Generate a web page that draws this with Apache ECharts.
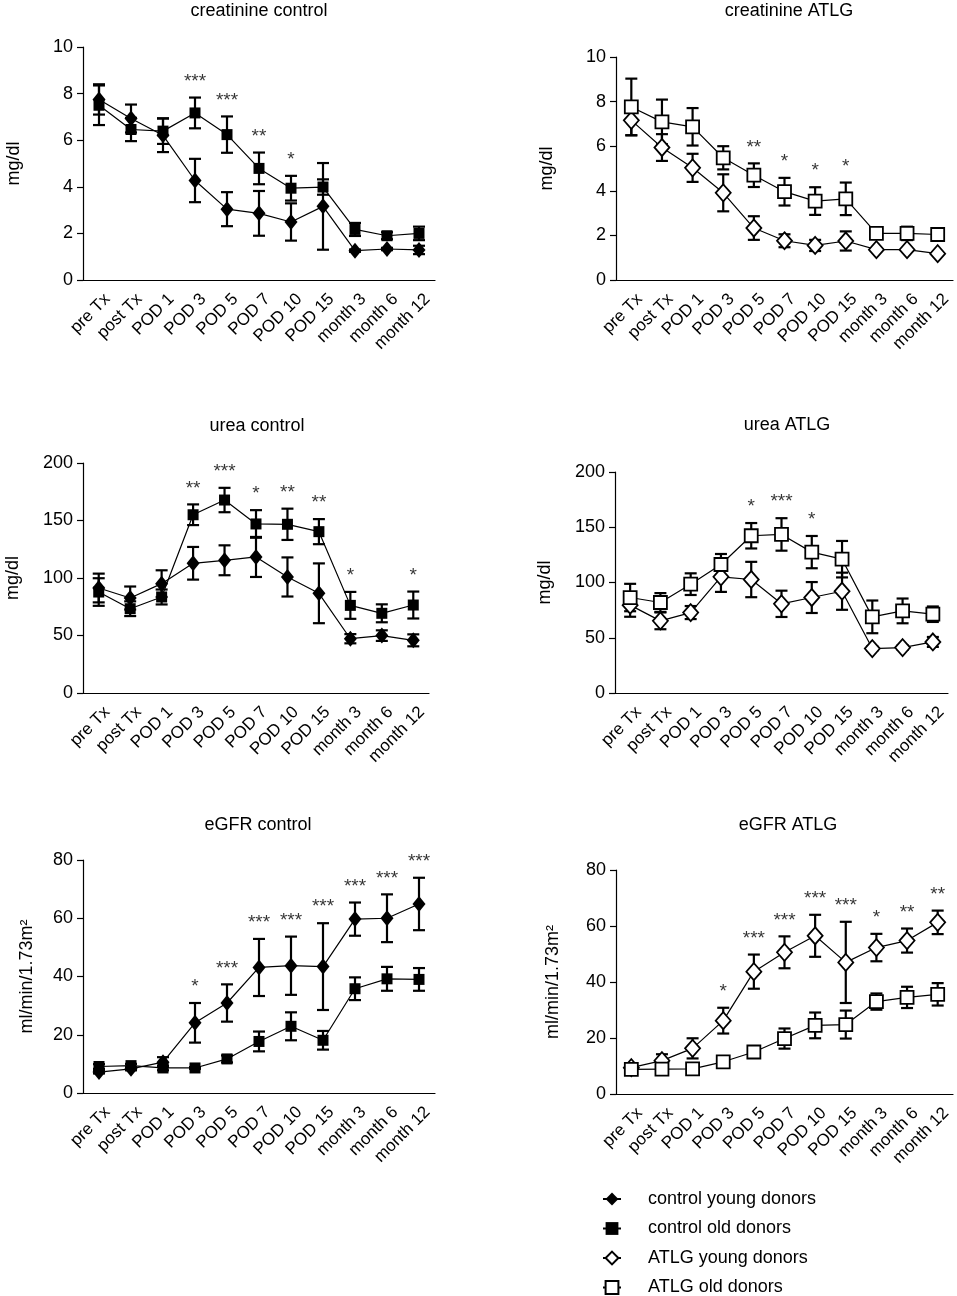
<!DOCTYPE html>
<html>
<head>
<meta charset="utf-8">
<title>creatinine, urea and eGFR</title>
<script src="https://cdn.jsdelivr.net/npm/echarts@6/dist/echarts.min.js"></script>
<style>
html,body{margin:0;padding:0;background:#fff;}
#chart{width:957px;height:1296px;}
</style>
</head>
<body>
<div id="chart"></div>
<script>
const FONT = '"Liberation Sans", Arial, Helvetica, sans-serif'

const categories = ['pre Tx', 'post Tx', 'POD 1', 'POD 3', 'POD 5', 'POD 7', 'POD 10', 'POD 15', 'month 3', 'month 6', 'month 12']

// creatinine control (mg/dl), mean and error
const creatCtrlYoung = [7.75, 6.93, 6.21, 4.27, 3.04, 2.86, 2.49, 3.16, 1.26, 1.33, 1.29]
const creatCtrlYoungErr = [0.65, 0.6, 0.72, 0.93, 0.73, 0.96, 0.8, 1.86, 0.05, 0.05, 0.18]
const creatCtrlOld = [7.5, 6.46, 6.39, 7.17, 6.24, 4.79, 3.94, 3.99, 2.17, 1.9, 2.0]
const creatCtrlOldErr = [0.85, 0.5, 0.55, 0.66, 0.78, 0.68, 0.53, 0.33, 0.28, 0.15, 0.29]
const creatCtrlStars = ['', '', '', '***', '***', '**', '*', '', '', '', '']

// creatinine ATLG
const creatAtlgYoung = [7.16, 5.94, 5.03, 3.91, 2.33, 1.76, 1.55, 1.75, 1.36, 1.36, 1.18]
const creatAtlgYoungErr = [0.67, 0.6, 0.63, 0.83, 0.53, 0.29, 0.25, 0.43, 0.05, 0.05, 0.05]
const creatAtlgOld = [7.76, 7.09, 6.87, 5.48, 4.7, 3.96, 3.54, 3.64, 2.09, 2.09, 2.04]
const creatAtlgOldErr = [1.27, 1.0, 0.84, 0.52, 0.53, 0.62, 0.62, 0.73, 0.05, 0.3, 0.15]
const creatAtlgStars = ['', '', '', '', '**', '*', '*', '*', '', '', '']

// urea control (mg/dl)
const ureaCtrlYoung = [91.3, 82.6, 95.1, 112.8, 115.4, 118.3, 100.9, 86.7, 47.2, 49.9, 45.8]
const ureaCtrlYoungErr = [12.5, 10, 11.6, 14.2, 13, 17.4, 17, 26, 4, 4.6, 5.2]
const ureaCtrlOld = [87.8, 73.3, 83.5, 155, 167.8, 147, 146.7, 140.3, 76.2, 69.3, 76.5]
const ureaCtrlOldErr = [12, 6.4, 6.5, 9, 10.6, 12, 13.6, 10.9, 11.7, 7.8, 11.7]
const ureaCtrlStars = ['', '', '', '**', '***', '*', '**', '**', '*', '', '*']

// urea ATLG
const ureaAtlgYoung = [79.5, 65.3, 72.8, 105.1, 102.7, 80.7, 86.4, 92.1, 40.2, 41.1, 46.2]
const ureaAtlgYoungErr = [10.5, 7.6, 5.9, 13.6, 16, 11.9, 14, 16.8, 2, 2, 4.5]
const ureaAtlgOld = [86.4, 81.9, 98.5, 116.3, 142.3, 143.5, 127.5, 121.1, 68.9, 74.3, 71.3]
const ureaAtlgOldErr = [12.4, 8.5, 9.8, 9.5, 11.5, 14.7, 14.6, 16.5, 14.8, 11.2, 7]
const ureaAtlgStars = ['', '', '', '', '*', '***', '*', '', '', '', '']

// eGFR control (ml/min/1.73m²)
const egfrCtrlYoung = [7.2, 8.3, 10.6, 24.1, 30.9, 43.1, 43.7, 43.4, 59.7, 60.0, 64.9]
const egfrCtrlYoungErr = [0.5, 0.5, 1.7, 6.8, 6.4, 9.8, 10, 14.9, 5.7, 8.2, 9]
const egfrCtrlOld = [9.1, 9.4, 8.6, 8.6, 11.7, 17.7, 22.9, 18.1, 35.8, 39.2, 39.0]
const egfrCtrlOldErr = [0.8, 0.6, 0.8, 0.3, 1.2, 3.4, 4.8, 3.2, 3.9, 4.1, 3.9]
const egfrCtrlStars = ['', '', '', '*', '***', '***', '***', '***', '***', '***', '***']

// eGFR ATLG
const egfrAtlgYoung = [9.4, 11.9, 16.3, 26.2, 43.7, 50.6, 56.5, 47.0, 52.3, 54.8, 61.3]
const egfrAtlgYoungErr = [0.8, 2.3, 3.6, 4.6, 6.1, 5.7, 7.5, 14.5, 4.9, 4.3, 4.2]
const egfrAtlgOld = [8.8, 8.9, 9.0, 11.5, 15.0, 19.8, 24.5, 24.8, 33.0, 34.5, 35.6]
const egfrAtlgOldErr = [0.5, 0.5, 0.3, 0.5, 2.0, 3.6, 4.6, 5.0, 2.9, 3.8, 4.0]
const egfrAtlgStars = ['', '', '', '*', '***', '***', '***', '***', '*', '**', '**']

const legendNames = ['control young donors', 'control old donors', 'ATLG young donors', 'ATLG old donors']

// markers: control = filled, ATLG = open
const marks = {
    control: { young: { symbol: 'diamond', size: [13, 16], fill: '#000' }, old: { symbol: 'rect', size: 11, fill: '#000' } },
    ATLG: { young: { symbol: 'diamond', size: [15, 17], fill: '#fff' }, old: { symbol: 'rect', size: 13, fill: '#fff' } }
}

const panels = [
    { title: 'creatinine control', unit: 'mg/dl', max: 10, step: 2, grp: 'control',
      young: creatCtrlYoung, youngErr: creatCtrlYoungErr, old: creatCtrlOld, oldErr: creatCtrlOldErr, stars: creatCtrlStars,
      box: [83, 47, 352, 233], tx: 259, ty: 11, gap: 60 },
    { title: 'creatinine ATLG', unit: 'mg/dl', max: 10, step: 2, grp: 'ATLG',
      young: creatAtlgYoung, youngErr: creatAtlgYoungErr, old: creatAtlgOld, oldErr: creatAtlgOldErr, stars: creatAtlgStars,
      box: [616, 57, 337, 223], tx: 789, ty: 11, gap: 60 },
    { title: 'urea control', unit: 'mg/dl', max: 200, step: 50, grp: 'control',
      young: ureaCtrlYoung, youngErr: ureaCtrlYoungErr, old: ureaCtrlOld, oldErr: ureaCtrlOldErr, stars: ureaCtrlStars,
      box: [83, 463, 346, 230], tx: 257, ty: 426, gap: 61 },
    { title: 'urea ATLG', unit: 'mg/dl', max: 200, step: 50, grp: 'ATLG',
      young: ureaAtlgYoung, youngErr: ureaAtlgYoungErr, old: ureaAtlgOld, oldErr: ureaAtlgOldErr, stars: ureaAtlgStars,
      box: [615, 472, 333, 221], tx: 787, ty: 425, gap: 61 },
    { title: 'eGFR control', unit: 'ml/min/1.73m²', max: 80, step: 20, grp: 'control',
      young: egfrCtrlYoung, youngErr: egfrCtrlYoungErr, old: egfrCtrlOld, oldErr: egfrCtrlOldErr, stars: egfrCtrlStars,
      box: [83, 860, 352, 233], tx: 258, ty: 825, gap: 47 },
    { title: 'eGFR ATLG', unit: 'ml/min/1.73m²', max: 80, step: 20, grp: 'ATLG',
      young: egfrAtlgYoung, youngErr: egfrAtlgYoungErr, old: egfrAtlgOld, oldErr: egfrAtlgOldErr, stars: egfrAtlgStars,
      box: [616, 870, 337, 224], tx: 788, ty: 825, gap: 54 }
]

// vertical bar with caps for each point
function renderErr(params, api) {
    const lo = api.coord([api.value(0), api.value(1)])
    const hi = api.coord([api.value(0), api.value(2)])
    const w = 6
    const style = { stroke: '#000', lineWidth: 2.2 }
    return {
        type: 'group',
        children: [
            { type: 'line', shape: { x1: lo[0], y1: lo[1], x2: hi[0], y2: hi[1] }, style: style },
            { type: 'line', shape: { x1: lo[0] - w, y1: lo[1], x2: lo[0] + w, y2: lo[1] }, style: style },
            { type: 'line', shape: { x1: hi[0] - w, y1: hi[1], x2: hi[0] + w, y2: hi[1] }, style: style }
        ]
    }
}

const axisColor = { color: '#000', width: 1.2 }
const grid = [], xAxis = [], yAxis = [], series = [], graphic = []

panels.forEach(function (p, i) {
    grid.push({ left: p.box[0], top: p.box[1], width: p.box[2], height: p.box[3] })
    xAxis.push({
        type: 'category', gridIndex: i, data: categories, boundaryGap: true,
        axisLine: { lineStyle: axisColor },
        axisTick: { alignWithLabel: true, length: 6, lineStyle: axisColor },
        axisLabel: { rotate: 45, interval: 0, color: '#000', fontSize: 17, fontFamily: FONT, margin: 8,
            verticalAlign: 'top', lineHeight: 18, padding: [3, 0, 0, 0] }
    })
    yAxis.push({
        type: 'value', gridIndex: i, min: 0, max: p.max, interval: p.step,
        splitLine: { show: false },
        axisLine: { show: true, lineStyle: axisColor },
        axisTick: { show: true, length: 6, lineStyle: axisColor },
        axisLabel: { color: '#000', fontSize: 18, fontFamily: FONT, margin: 10 },
        name: p.unit, nameLocation: 'middle', nameGap: p.gap,
        nameTextStyle: { color: '#000', fontSize: 18, fontFamily: FONT }
    })
    graphic.push({
        type: 'text', x: p.tx, y: p.ty,
        style: { text: p.title, font: '18px ' + FONT, fill: '#000', align: 'center', verticalAlign: 'middle' }
    })

    const groups = [
        { name: p.grp + ' young donors', vals: p.young, errs: p.youngErr, m: marks[p.grp].young },
        { name: p.grp + ' old donors', vals: p.old, errs: p.oldErr, m: marks[p.grp].old }
    ]
    groups.forEach(function (g) {
        series.push({
            type: 'custom', xAxisIndex: i, yAxisIndex: i, silent: true, z: 2,
            renderItem: renderErr,
            encode: { x: 0, y: [1, 2] },
            data: g.vals.map(function (v, k) { return [k, v - g.errs[k], v + g.errs[k]] })
        })
        series.push({
            type: 'line', name: g.name, xAxisIndex: i, yAxisIndex: i, z: 3,
            data: g.vals, symbol: g.m.symbol, symbolSize: g.m.size, showAllSymbol: true,
            lineStyle: { color: '#000', width: 1.2 },
            itemStyle: { color: g.m.fill, borderColor: '#000', borderWidth: g.m.fill === '#fff' ? 1.8 : 0 },
            emphasis: { disabled: true }
        })
    })

    // significance stars above the higher error bar
    const starData = []
    p.stars.forEach(function (s, k) {
        if (!s) return
        starData.push([k, Math.max(p.young[k] + p.youngErr[k], p.old[k] + p.oldErr[k]), s])
    })
    series.push({
        type: 'scatter', xAxisIndex: i, yAxisIndex: i, silent: true, z: 4,
        symbolSize: 1, itemStyle: { color: 'rgba(0,0,0,0)' },
        data: starData,
        label: { show: true, position: 'top', distance: 6, formatter: function (q) { return q.value[2] },
            color: '#000', fontSize: 19, fontFamily: FONT }
    })
})

const chart = echarts.init(document.getElementById('chart'))
chart.setOption({
    animation: false,
    backgroundColor: '#fff',
    textStyle: { fontFamily: FONT },
    grid: grid,
    xAxis: xAxis,
    yAxis: yAxis,
    graphic: graphic,
    legend: {
        orient: 'vertical', left: 602, top: 1190, height: 200, padding: 0,
        itemWidth: 18, itemHeight: 16, itemGap: 11.5,
        selectedMode: false,
        data: legendNames,
        textStyle: { color: '#000', fontSize: 18, fontFamily: FONT, padding: [0, 0, 0, 22] }
    },
    series: series
})
</script>
</body>
</html>
